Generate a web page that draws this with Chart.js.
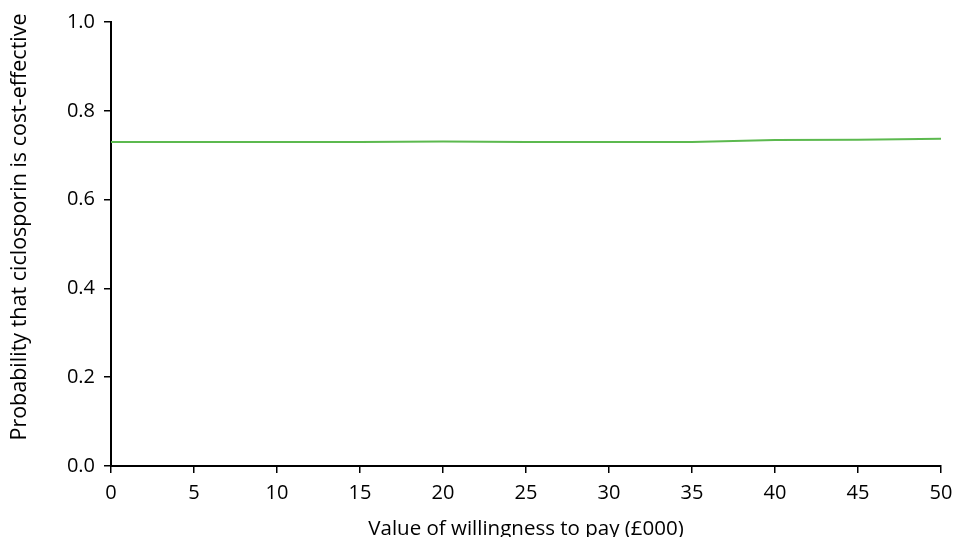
<!DOCTYPE html>
<html>
<head>
<meta charset="utf-8">
<script src="https://cdn.jsdelivr.net/npm/chart.js@4"></script>
<style>
  html, body { margin: 0; padding: 0; background: #fff; }
  #wrap { width: 956px; height: 537px; }
</style>
</head>
<body>
<div id="wrap"><canvas id="ceac"></canvas></div>
<script>
// willingness to pay (£000) and probability ciclosporin is cost-effective
const wtp = [0, 5, 10, 15, 20, 25, 30, 35, 40, 45, 50];
const probCiclosporin = [0.730, 0.730, 0.730, 0.730, 0.731, 0.730, 0.730, 0.730, 0.734, 0.735, 0.737];
const yTicks = [0, 0.2, 0.4, 0.6, 0.8, 1.0];
const yTitle = 'Probability that ciclosporin is cost-effective';

const FONT = "'Open Sans', 'Noto Sans', sans-serif";

// y title sits a bit above the axis centre in the original, so draw it by hand
const yTitlePlugin = {
    id: 'yTitle',
    afterDraw(chart) {
        const c = chart.ctx;
        const area = chart.chartArea;
        c.save();
        c.translate(20, (area.top + area.bottom) / 2 - 17);
        c.rotate(-Math.PI / 2);
        c.font = '21.5px ' + FONT;
        c.fillStyle = '#000';
        c.textAlign = 'center';
        c.textBaseline = 'middle';
        c.fillText(yTitle, 0, 0);
        c.restore();
    }
};

const ctx = document.getElementById('ceac').getContext('2d');
new Chart(ctx, {
    type: 'line',
    data: {
        datasets: [{
            data: wtp.map((x, i) => ({ x: x, y: probCiclosporin[i] })),
            borderColor: '#5cb94f',
            borderWidth: 2,
            pointRadius: 0,
            tension: 0,
            fill: false
        }]
    },
    options: {
        responsive: true,
        maintainAspectRatio: false,
        animation: false,
        layout: { padding: { top: 22, right: 15, left: 0, bottom: 0 } },
        plugins: { legend: { display: false }, tooltip: { enabled: false } },
        scales: {
            x: {
                type: 'linear',
                min: 0,
                max: 50,
                afterBuildTicks: axis => { axis.ticks = wtp.map(v => ({ value: v })); },
                grid: { drawOnChartArea: false, drawTicks: true, tickLength: 7, color: '#000', lineWidth: 1.5 },
                border: { color: '#000', width: 2 },
                ticks: { color: '#000', font: { family: FONT, size: 20 }, padding: 8, maxRotation: 0 },
                title: {
                    display: true,
                    text: 'Value of willingness to pay (£000)',
                    color: '#000',
                    font: { family: FONT, size: 20.5 },
                    padding: { top: 11, bottom: -4 }
                },
                afterFit: axis => {
                    axis.height = 71;
                    axis.paddingRight = 15;
                }
            },
            y: {
                min: 0,
                max: 1,
                afterBuildTicks: axis => { axis.ticks = yTicks.map(v => ({ value: v })); },
                grid: { drawOnChartArea: false, drawTicks: true, tickLength: 7, color: '#000', lineWidth: 1.5 },
                border: { color: '#000', width: 2 },
                ticks: {
                    color: '#000',
                    font: { family: FONT, size: 20 },
                    padding: 9,
                    callback: v => v.toFixed(1)
                },
                afterFit: axis => { axis.width = 111; }
            }
        }
    },
    plugins: [yTitlePlugin]
});
</script>
</body>
</html>
